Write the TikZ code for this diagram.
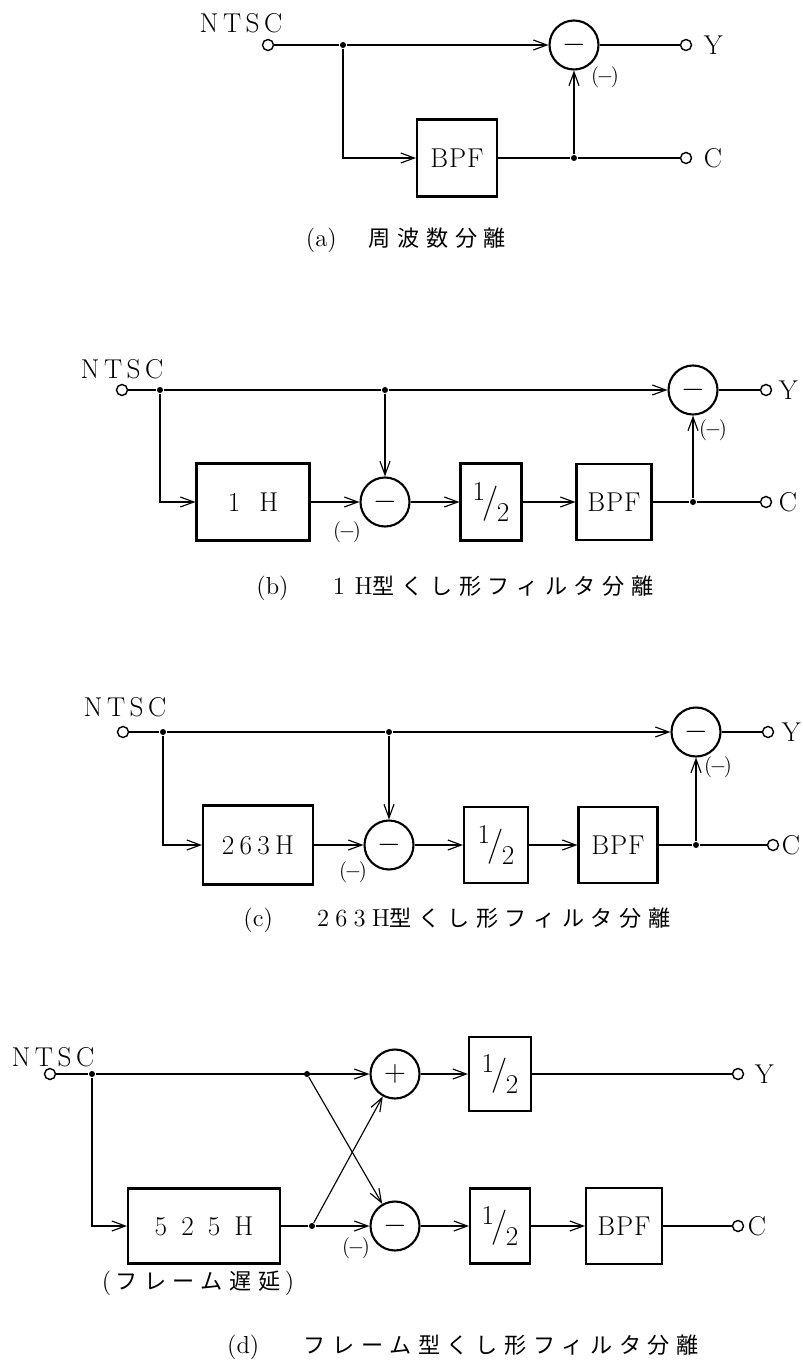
\documentclass[tikz,border=0pt]{standalone}
\usepackage{fontspec}
\newfontfamily\jp[LetterSpace=30,Scale=0.9]{Noto Sans CJK JP}
\usetikzlibrary{arrows.meta,positioning}
\newcommand\halfval{\raisebox{.42em}{1}\kern-.08em{\fontsize{20}{20}\selectfont/}\kern-.08em\raisebox{-.32em}{2}}
\newcommand\negmark{$(\mkern-2mu-\mkern-2mu)$}
\tikzset{
  >={Straight Barb[length=2.7mm,width=2mm]},
  blk/.style={draw,line width=1.2pt,minimum height=1.54cm,inner sep=0pt},
  sumc/.style={draw,circle,line width=1.2pt,minimum size=.98cm,inner sep=0pt,font=\fontsize{17}{17}\selectfont},
  term/.style={draw,circle,line width=.8pt,minimum size=.22cm,inner sep=0pt},
  jn/.style={fill,circle,minimum size=.12cm,inner sep=0pt},
  lbl/.style={inner sep=0pt,font=\fontsize{15.5}{17}\selectfont},
  neg/.style={inner sep=0pt,font=\fontsize{13}{14}\selectfont},
  captxt/.style={inner sep=0pt,font=\fontsize{14}{16}\selectfont}
}
\begin{document}
\begin{tikzpicture}[x=0.02cm,y=-0.02cm,line width=.65pt,font=\fontsize{15.5}{17}\selectfont]
\useasboundingbox (0,0) rectangle (802,1361);
% (a)
\node[lbl] (antsc) at (241,23) {N\,T\,S\,C};
\node[term] (ain) at (268,45) {};
\node[jn] (aj1) at (343,45) {};
\node[sumc] (asub) at (574,45) {$-$};
\node[term] (aY) at (686,45) {};
\node[lbl,right=.22cm of aY] (aYt) {Y};
\node[blk,minimum width=1.6cm] (abpf) at (457,158) {B\kern.5pt P\kern.5pt F};
\node[jn] (aj2) at (574,158) {};
\node[term] (aC) at (686,158) {};
\node[lbl,right=.22cm of aC] (aCt) {C};
\node[neg] (aneg) at (605,77) {\negmark};
\node[captxt] (capa) at (406,240) {(a)\hspace{1.3em}{\jp 周波数分離}};
\draw (ain)--(aj1);
\draw[->] (aj1)--(asub);
\draw[->] (aj1)|-(abpf);
\draw (asub)--(aY);
\draw (abpf)--(aj2)--(aC);
\draw[->] (aj2)--(asub);
% (b)
\node[lbl] (bntsc) at (122,369) {N\,T\,S\,C};
\node[term] (bin) at (122,390) {};
\node[jn] (bj1) at (160,390) {};
\node[jn] (bj2) at (385,390) {};
\node[sumc] (bsub2) at (693,390) {$-$};
\node[term] (bY) at (766,390) {};
\node[lbl,right=.12cm of bY] (bYt) {Y};
\node[blk,minimum width=2.26cm] (b1h) at (253,502) {1\hspace{.7em}H};
\node[sumc] (bsub1) at (385,502) {$-$};
\node[blk,minimum width=1.22cm] (bhalf) at (491,502) {\halfval};
\node[blk,minimum width=1.5cm,minimum height=1.52cm] (bbpf) at (614,502) {B\kern.5pt P\kern.5pt F};
\node[jn] (bj3) at (693,502) {};
\node[term] (bC) at (766,502) {};
\node[lbl,right=.12cm of bC] (bCt) {C};
\node[neg] (bneg1) at (347,532) {\negmark};
\node[neg] (bneg2) at (713,430) {\negmark};
\node[captxt] (capb) at (455,588) {(b)\hspace{1.8em}1\hspace{.4em}H{\jp 型くし形フィルタ分離}};
\draw (bin)--(bj1)--(bj2);
\draw[->] (bj2)--(bsub2);
\draw[->] (bj1)|-(b1h);
\draw[->] (bj2)--(bsub1);
\draw[->] (b1h)--(bsub1);
\draw[->] (bsub1)--(bhalf);
\draw[->] (bhalf)--(bbpf);
\draw (bbpf)--(bj3)--(bC);
\draw[->] (bj3)--(bsub2);
\draw (bsub2)--(bY);
% (c)
\node[lbl] (cntsc) at (125,707) {N\,T\,S\,C};
\node[term] (cin) at (123,732) {};
\node[jn] (cj1) at (163,732) {};
\node[jn] (cj2) at (389,732) {};
\node[sumc] (csub2) at (696,732) {$-$};
\node[term] (cY) at (768,732) {};
\node[lbl,right=.14cm of cY] (cYt) {Y};
\node[blk,minimum width=2.2cm,minimum height=1.58cm] (c263) at (258,845) {2\kern3pt6\kern3pt3\kern3pt H};
\node[sumc] (csub1) at (389,845) {$-$};
\node[blk,minimum width=1.28cm,minimum height=1.52cm] (chalf) at (496,845) {\halfval};
\node[blk,minimum width=1.58cm,minimum height=1.52cm] (cbpf) at (618,845) {B\kern.5pt P\kern.5pt F};
\node[jn] (cj3) at (696,845) {};
\node[term] (cC) at (773,845) {};
\node[lbl,right=.04cm of cC] (cCt) {C};
\node[neg] (cneg1) at (353,872) {\negmark};
\node[neg] (cneg2) at (718,767) {\negmark};
\node[captxt] (capc) at (457,920) {(c)\hspace{1.8em}2\kern3.5pt6\kern3.5pt3\kern3.5pt H{\jp 型くし形フィルタ分離}};
\draw (cin)--(cj1)--(cj2);
\draw[->] (cj2)--(csub2);
\draw[->] (cj1)|-(c263);
\draw[->] (cj2)--(csub1);
\draw[->] (c263)--(csub1);
\draw[->] (csub1)--(chalf);
\draw[->] (chalf)--(cbpf);
\draw (cbpf)--(cj3)--(cC);
\draw[->] (cj3)--(csub2);
\draw (csub2)--(cY);
% (d)
\node[lbl] (dntsc) at (53,1057) {N\,T\,S\,C};
\node[term] (din) at (50,1074) {};
\node[jn] (dj1) at (92,1074) {};
\node[jn] (dj2) at (307,1074) {};
\node[sumc] (dadd) at (395,1074) {$+$};
\node[blk,minimum width=1.24cm,minimum height=1.48cm] (dhalf1) at (500,1074) {\halfval};
\node[term] (dY) at (738,1074) {};
\node[lbl,right=.2cm of dY] (dYt) {Y};
\node[blk,minimum width=3.04cm,minimum height=1.5cm] (d525) at (204,1226) {5\kern8pt2\kern8pt5\kern8pt H};
\node[jn] (dj3) at (312,1226) {};
\node[sumc] (dsub) at (395,1226) {$-$};
\node[blk,minimum width=1.2cm,minimum height=1.5cm] (dhalf2) at (500,1226) {\halfval};
\node[blk,minimum width=1.52cm,minimum height=1.52cm] (dbpf) at (624,1226) {B\kern.5pt P\kern.5pt F};
\node[term] (dC) at (738,1226) {};
\node[lbl,right=.06cm of dC] (dCt) {C};
\node[neg] (dneg) at (356,1248) {\negmark};
\node[captxt] (ddelay) at (198,1283) {(\,{\jp フレーム遅延}\,)};
\node[captxt] (capd) at (463,1347) {(d)\hspace{1.8em}{\jp フレーム型くし形フィルタ分離}};
\draw (din)--(dj1);
\draw[->] (dj1)--(dadd);
\draw[->] (dj1)|-(d525);
\draw (d525)--(dj3);
\draw[->] (dj3)--(dsub);
\draw[->] (dj3)--(dadd);
\draw[->] (dj2)--(dsub);
\draw[->] (dadd)--(dhalf1);
\draw (dhalf1)--(dY);
\draw[->] (dsub)--(dhalf2);
\draw[->] (dhalf2)--(dbpf);
\draw (dbpf)--(dC);
\end{tikzpicture}
\end{document}
